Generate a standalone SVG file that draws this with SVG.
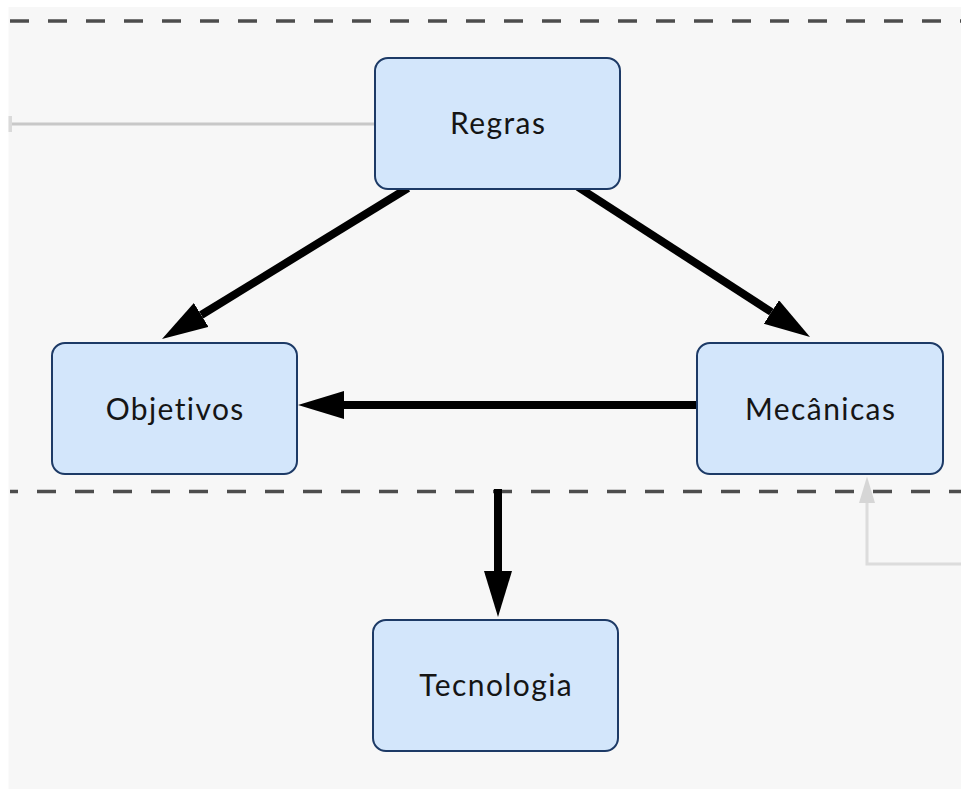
<svg xmlns="http://www.w3.org/2000/svg" width="961" height="790" viewBox="0 0 961 790">
<defs>
<style>
.node rect{fill:#d3e6fb;stroke:#1d3a66;stroke-width:2}
.node text{font-family:Lato,"Noto Sans",sans-serif;font-size:30px;letter-spacing:1.4px;fill:#151515;text-anchor:middle}
.sep{stroke:#4d4d4d;stroke-width:3.5;stroke-dasharray:19 19;fill:none}
.main{stroke:#000;stroke-width:8;fill:none}
</style>
<marker id="ah" markerUnits="userSpaceOnUse" markerWidth="50" markerHeight="32" refX="0" refY="14" orient="auto" viewBox="0 0 50 32">
<path d="M0,0 L46,14 L0,28 Z" fill="#000"/>
</marker>
</defs>
<rect x="0" y="0" width="961" height="790" fill="#fff"/>
<rect x="8.5" y="7" width="953" height="782" fill="#f7f7f7"/>
<line class="sep" x1="10" y1="21" x2="961" y2="21"/>
<line class="sep" x1="10" y1="491.5" x2="961" y2="491.5" stroke-dashoffset="11"/>
<g id="connectors">
<line x1="375" y1="124" x2="10" y2="124" stroke="#c8c8c8" stroke-width="3"/>
<rect x="8.5" y="116" width="3.5" height="16" fill="#dadada"/>
<polyline points="961,564 867,564 867,502" fill="none" stroke="#dcdcdc" stroke-width="3"/>
<polygon points="867,476.5 859,503 875,503" fill="#d6d6d6"/>
<line class="main" x1="408" y1="188" x2="201.2" y2="315" marker-end="url(#ah)"/>
<line class="main" x1="578" y1="187" x2="771.4" y2="312" marker-end="url(#ah)"/>
<line class="main" x1="700" y1="405" x2="344" y2="405" marker-end="url(#ah)"/>
<line class="main" x1="498" y1="489" x2="498" y2="571" stroke-width="9" marker-end="url(#ah)"/>
</g>
<g id="regras" class="node"><rect x="375" y="58" width="245" height="131" rx="13"/><text x="498.2" y="134">Regras</text></g>
<g id="objetivos" class="node"><rect x="52" y="343" width="245" height="131" rx="13"/><text x="175.2" y="420">Objetivos</text></g>
<g id="mecanicas" class="node"><rect x="697" y="343" width="246" height="131" rx="13"/><text x="820.7" y="420">Mecânicas</text></g>
<g id="tecnologia" class="node"><rect x="373" y="620" width="245" height="131" rx="13"/><text x="496.2" y="696">Tecnologia</text></g>
</svg>
